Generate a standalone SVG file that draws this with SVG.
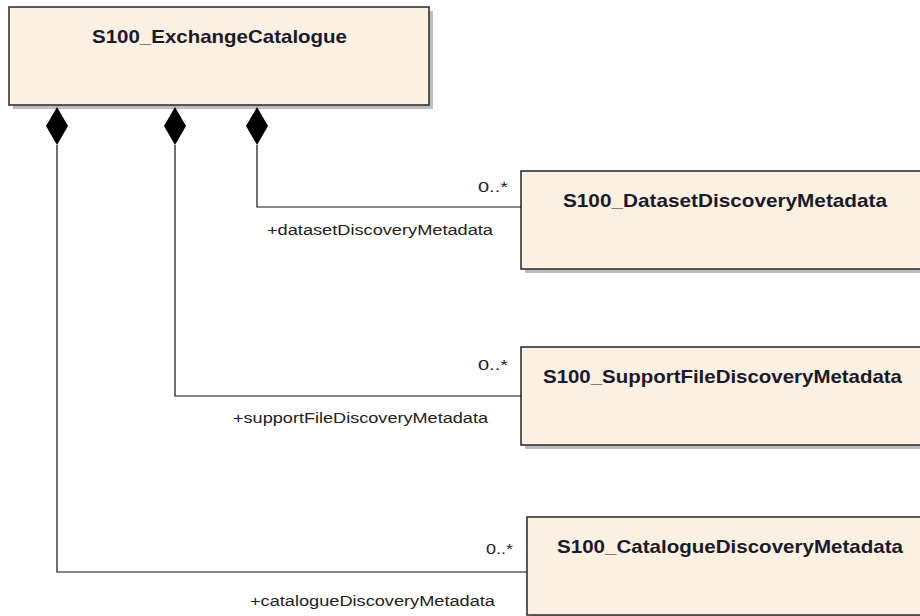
<svg xmlns="http://www.w3.org/2000/svg" width="920" height="616" viewBox="0 0 920 616">
<style>
.box{fill:#FBF0E2;stroke:#333;stroke-width:1.6}
.shadow{fill:#BDBDBD}
.title{font-family:"Liberation Sans",Arial,sans-serif;font-weight:bold;font-size:19px;fill:#1a1a2a}
.lbl{font-family:"Liberation Sans",Arial,sans-serif;font-size:14px;fill:#222}
.con{fill:none;stroke:#111;stroke-width:1.2}
.dia{fill:#000}
</style>
<rect width="920" height="616" fill="#fff"/>
<g id="S100_ExchangeCatalogue">
<rect class="shadow" x="13" y="11" width="420" height="98"/>
<rect class="box" x="9" y="7" width="420" height="98"/>
<text class="title" x="219.5" y="43" text-anchor="middle" textLength="255" lengthAdjust="spacingAndGlyphs">S100_ExchangeCatalogue</text>
</g>
<g id="S100_DatasetDiscoveryMetadata">
<rect class="shadow" x="525" y="175" width="400" height="98"/>
<rect class="box" x="521" y="171" width="400" height="98"/>
<text class="title" x="725" y="207" text-anchor="middle" textLength="324" lengthAdjust="spacingAndGlyphs">S100_DatasetDiscoveryMetadata</text>
</g>
<g id="S100_SupportFileDiscoveryMetadata">
<rect class="shadow" x="525" y="351" width="400" height="98"/>
<rect class="box" x="521" y="347" width="400" height="98"/>
<text class="title" x="722.5" y="383" text-anchor="middle" textLength="359" lengthAdjust="spacingAndGlyphs">S100_SupportFileDiscoveryMetadata</text>
</g>
<g id="S100_CatalogueDiscoveryMetadata">
<rect class="shadow" x="531" y="521" width="400" height="98"/>
<rect class="box" x="527" y="517" width="400" height="98"/>
<text class="title" x="730" y="553" text-anchor="middle" textLength="346" lengthAdjust="spacingAndGlyphs">S100_CatalogueDiscoveryMetadata</text>
</g>
<g id="connectors">
<polyline class="con" points="257,145 257,207 521,207"/>
<polygon class="dia" points="257,107 268,126 257,145 246,126"/>
<text class="lbl" x="508" y="192" text-anchor="end" textLength="30" lengthAdjust="spacingAndGlyphs">0..*</text>
<text class="lbl" x="267" y="235" textLength="226" lengthAdjust="spacingAndGlyphs">+datasetDiscoveryMetadata</text>
<polyline class="con" points="175,145 175,396 521,396"/>
<polygon class="dia" points="175,107 186,126 175,145 164,126"/>
<text class="lbl" x="508" y="370" text-anchor="end" textLength="30" lengthAdjust="spacingAndGlyphs">0..*</text>
<text class="lbl" x="233" y="423" textLength="255" lengthAdjust="spacingAndGlyphs">+supportFileDiscoveryMetadata</text>
<polyline class="con" points="57,145 57,572 527,572"/>
<polygon class="dia" points="57,107 68,126 57,145 46,126"/>
<text class="lbl" x="513" y="554" text-anchor="end" textLength="27" lengthAdjust="spacingAndGlyphs">0..*</text>
<text class="lbl" x="250" y="606" textLength="245" lengthAdjust="spacingAndGlyphs">+catalogueDiscoveryMetadata</text>
</g>
</svg>
